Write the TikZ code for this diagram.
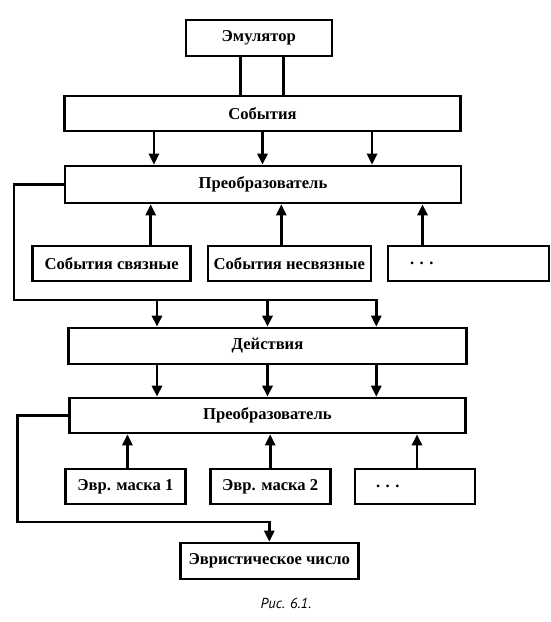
\documentclass[tikz,border=0pt]{standalone}
\usepackage{fontspec}
\setmainfont{Liberation Serif}
\newfontfamily\capfont{PT Sans}
\usetikzlibrary{arrows.meta}

\begin{document}
\begin{tikzpicture}
		[x=1pt,y=-1pt,line width=2.6pt,>={Triangle[length=11pt,width=10pt]},
		blk/.style={draw,rectangle,inner sep=0pt,font=\bfseries\fontsize{16.6}{19}\selectfont}]
		\useasboundingbox (0,0) rectangle (551,622);

		\node[blk,minimum width=146pt,minimum height=36pt] (emu) at (258.8,38) {Эмулятор};
		\node[blk,minimum width=396pt,minimum height=35pt] (sob) at (262.5,113.5) {События};
		\node[blk,minimum width=396pt,minimum height=37pt] (pr1) at (263,184.5) {Преобразователь};
		\node[blk,minimum width=158pt,minimum height=35pt] (sv) at (111.7,263.5) {События связные};
		\node[blk,minimum width=163pt,minimum height=35pt] (nsv) at (289.3,263.5) {События несвязные};
		\node[blk,minimum width=161pt,minimum height=35pt,text width=117pt,align=left] (ev) at (468.5,263.5) {.\ .\ .};
		\node[blk,minimum width=398pt,minimum height=36pt] (act) at (267.5,346) {Действия};
		\node[blk,minimum width=396pt,minimum height=35pt] (pr2) at (267.4,415.5) {Преобразователь};
		\node[blk,minimum width=120pt,minimum height=35pt] (m1) at (125.4,486.5) {Эвр. маска 1};
		\node[blk,minimum width=120pt,minimum height=35pt] (m2) at (270.2,486.5) {Эвр. маска 2};
		\node[blk,minimum width=120pt,minimum height=35pt,text width=78pt,align=left] (em) at (415,486.5) {.\ .\ .};
		\node[blk,minimum width=178pt,minimum height=36pt] (num) at (269.3,561) {Эвристическое число};
		\node[font=\capfont\itshape\fontsize{14.5}{16}\selectfont] (cap) at (286,603) {Рис. 6.1.};

		\coordinate (l1) at (14,300);
		\coordinate (l2) at (17.6,522);

		\draw ([xshift=-18.5pt]emu.south) -- ([xshift=-18.5pt]emu.south |- sob.north);
		\draw ([xshift=24.7pt]emu.south) -- ([xshift=24.7pt]emu.south |- sob.north);

		\draw[->] ([xshift=-108.6pt]sob.south) -- ([xshift=-108.6pt]sob.south |- pr1.north);
		\draw[->] (sob.south) -- (sob.south |- pr1.north);
		\draw[->] ([xshift=109.6pt]sob.south) -- ([xshift=109.6pt]sob.south |- pr1.north);

		\draw[->] ([xshift=39pt]sv.north) -- ([xshift=39pt]sv.north |- pr1.south);
		\draw[->] ([xshift=-8pt]nsv.north) -- ([xshift=-8pt]nsv.north |- pr1.south);
		\draw[->] ([xshift=-46pt]ev.north) -- ([xshift=-46pt]ev.north |- pr1.south);

		\draw[->] (pr1.west) -- (pr1.west -| l1) -- (l1) -| ([xshift=108.8pt]act.north);
		\draw[->] ([xshift=-110.5pt]act.north |- l1) -- ([xshift=-110.5pt]act.north);
		\draw[->] (act.north |- l1) -- (act.north);

		\draw[->] ([xshift=-110.5pt]act.south) -- ([xshift=-110.5pt]act.south |- pr2.north);
		\draw[->] (act.south) -- (act.south |- pr2.north);
		\draw[->] ([xshift=108.8pt]act.south) -- ([xshift=108.8pt]act.south |- pr2.north);

		\draw[->] ([xshift=2pt]m1.north) -- ([xshift=2pt]m1.north |- pr2.south);
		\draw[->] (m2.north) -- (m2.north |- pr2.south);
		\draw[->] ([xshift=2pt]em.north) -- ([xshift=2pt]em.north |- pr2.south);

		\draw[->] (pr2.west) -- (pr2.west -| l2) -- (l2) -| (num.north);

	\end{tikzpicture}
\end{document}
